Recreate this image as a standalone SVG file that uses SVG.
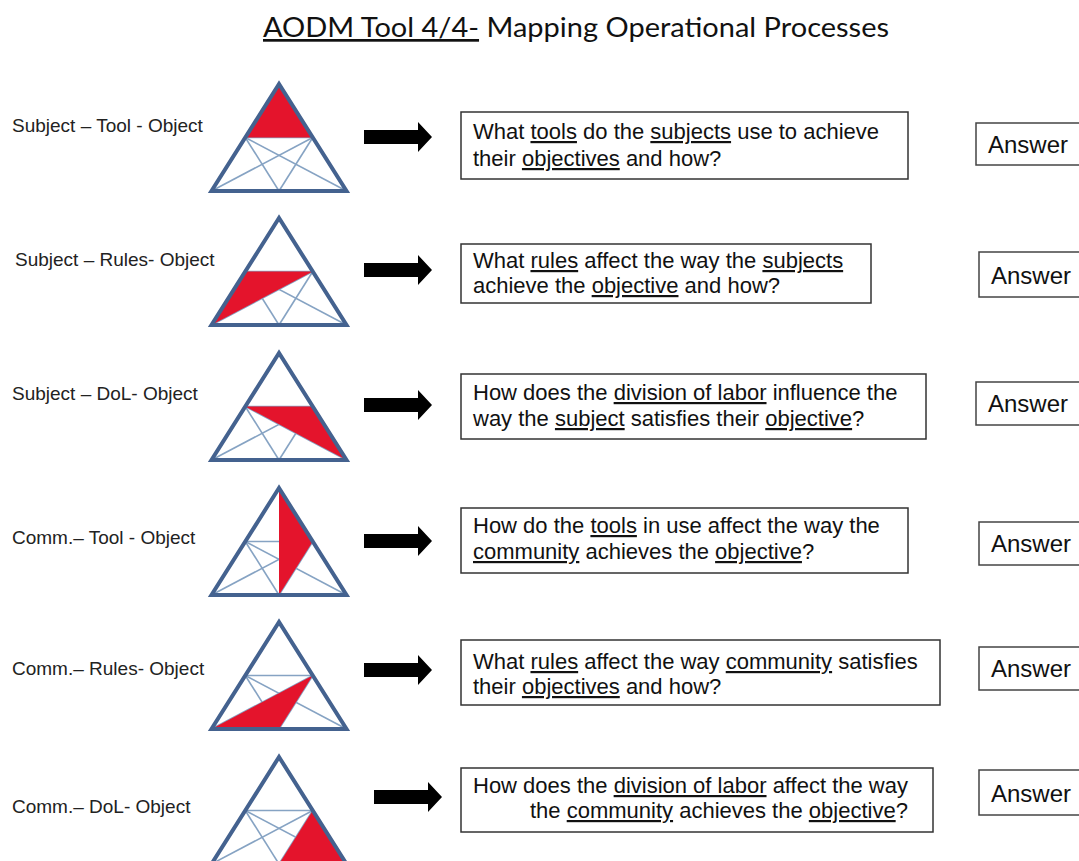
<svg xmlns="http://www.w3.org/2000/svg" xmlns:xlink="http://www.w3.org/1999/xlink" width="1079" height="861" viewBox="0 0 1079 861">
  <style>
    .title { font-family: Lato, "Liberation Sans", sans-serif; font-size: 27px; fill: #111; }
    .label { font-family: "Liberation Sans", Arial, sans-serif; font-size: 19px; fill: #222; }
    .q { font-family: "Liberation Sans", Arial, sans-serif; font-size: 22px; fill: #111; }
    .u { text-decoration: underline; }
    .qbox { fill: #fff; stroke: #333; stroke-width: 1.5; }
    .abox { fill: #fff; stroke: #444; stroke-width: 1.5; }
    .ans { font-family: "Liberation Sans", Arial, sans-serif; font-size: 24px; fill: #111; }
    .outer { fill: none; stroke: #44628f; stroke-width: 4; stroke-linejoin: miter; }
    .inner { fill: none; stroke: #86a3c3; stroke-width: 1.6; }
    .hot { fill: #e4142c; }
    .arrow { fill: #000; }
  </style>
  <defs>
    <!-- activity triangle, apex at origin: tool (0,0), subject (-33.75,53.5), object (33.75,53.5),
         rules (-67.5,107), community (0,107), division of labour (67.5,107) -->
    <g id="innerLines">
      <line class="inner" x1="-33.75" y1="53.5" x2="33.75" y2="53.5"/>
      <line class="inner" x1="-33.75" y1="53.5" x2="67.5" y2="107"/>
      <line class="inner" x1="33.75" y1="53.5" x2="-67.5" y2="107"/>
      <line class="inner" x1="-33.75" y1="53.5" x2="0" y2="107"/>
      <line class="inner" x1="33.75" y1="53.5" x2="0" y2="107"/>
    </g>
    <polygon id="outerTri" class="outer" points="0,0 -67.5,107 67.5,107"/>
    <path id="blockArrow" class="arrow" d="M0,-7 H54 V-15 L68,0 L54,15 V7 H0 Z"/>
  </defs>

  <!-- heading -->
  <text class="title" x="263" y="37" textLength="626" lengthAdjust="spacingAndGlyphs"><tspan class="u">AODM Tool 4/4-</tspan> Mapping Operational Processes</text>

  <!-- row 1 -->
  <g id="row1-label"><text class="label" x="12" y="132">Subject – Tool - Object</text></g>
  <g id="row1-triangle" transform="translate(279,84)">
    <use xlink:href="#innerLines"/>
    <polygon class="hot" points="0,0 -33.75,53.5 33.75,53.5"/>
    <use xlink:href="#outerTri"/>
  </g>
  <g id="row1-question">
    <rect class="qbox" x="461" y="112" width="447" height="67"/>
    <text class="q" x="473" y="139">What <tspan class="u">tools</tspan> do the <tspan class="u">subjects</tspan> use to achieve</text>
    <text class="q" x="473" y="166">their <tspan class="u">objectives</tspan> and how?</text>
  </g>
  <g id="row1-answer">
    <rect class="abox" x="976" y="123" width="120" height="42"/>
    <text class="ans" x="988" y="153">Answer</text>
  </g>

  <!-- row 2 -->
  <g id="row2-label"><text class="label" x="15" y="266">Subject – Rules- Object</text></g>
  <g id="row2-triangle" transform="translate(279,218)">
    <use xlink:href="#innerLines"/>
    <polygon class="hot" points="-33.75,53.5 33.75,53.5 -67.5,107"/>
    <use xlink:href="#outerTri"/>
  </g>
  <g id="row2-question">
    <rect class="qbox" x="461" y="244" width="410" height="59"/>
    <text class="q" x="473" y="268">What <tspan class="u">rules</tspan> affect the way the <tspan class="u">subjects</tspan></text>
    <text class="q" x="473" y="293">achieve the <tspan class="u">objective</tspan> and how?</text>
  </g>
  <g id="row2-answer">
    <rect class="abox" x="979" y="252" width="120" height="45"/>
    <text class="ans" x="991" y="284">Answer</text>
  </g>

  <!-- row 3 -->
  <g id="row3-label"><text class="label" x="12" y="400">Subject – DoL- Object</text></g>
  <g id="row3-triangle" transform="translate(279,353)">
    <use xlink:href="#innerLines"/>
    <polygon class="hot" points="-33.75,53.5 33.75,53.5 67.5,107"/>
    <use xlink:href="#outerTri"/>
  </g>
  <g id="row3-question">
    <rect class="qbox" x="461" y="374" width="465" height="65"/>
    <text class="q" x="473" y="400">How does the <tspan class="u">division of labor</tspan> influence the</text>
    <text class="q" x="473" y="426">way the <tspan class="u">subject</tspan> satisfies their <tspan class="u">objective</tspan>?</text>
  </g>
  <g id="row3-answer">
    <rect class="abox" x="976" y="382" width="120" height="43"/>
    <text class="ans" x="988" y="412">Answer</text>
  </g>

  <!-- row 4 -->
  <g id="row4-label"><text class="label" x="12" y="544">Comm.– Tool - Object</text></g>
  <g id="row4-triangle" transform="translate(279,488)">
    <use xlink:href="#innerLines"/>
    <polygon class="hot" points="0,0 0,107 33.75,53.5"/>
    <use xlink:href="#outerTri"/>
  </g>
  <g id="row4-question">
    <rect class="qbox" x="461" y="508" width="447" height="65"/>
    <text class="q" x="473" y="533">How do the <tspan class="u">tools</tspan> in use affect the way the</text>
    <text class="q" x="473" y="559"><tspan class="u">community</tspan> achieves the <tspan class="u">objective</tspan>?</text>
  </g>
  <g id="row4-answer">
    <rect class="abox" x="979" y="522" width="120" height="43"/>
    <text class="ans" x="991" y="552">Answer</text>
  </g>

  <!-- row 5 -->
  <g id="row5-label"><text class="label" x="12" y="675">Comm.– Rules- Object</text></g>
  <g id="row5-triangle" transform="translate(279,622)">
    <use xlink:href="#innerLines"/>
    <polygon class="hot" points="-67.5,107 0,107 33.75,53.5"/>
    <use xlink:href="#outerTri"/>
  </g>
  <g id="row5-question">
    <rect class="qbox" x="461" y="640" width="479" height="65"/>
    <text class="q" x="473" y="669">What <tspan class="u">rules</tspan> affect the way <tspan class="u">community</tspan> satisfies</text>
    <text class="q" x="473" y="694">their <tspan class="u">objectives</tspan> and how?</text>
  </g>
  <g id="row5-answer">
    <rect class="abox" x="979" y="647" width="120" height="43"/>
    <text class="ans" x="991" y="677">Answer</text>
  </g>

  <!-- row 6 -->
  <g id="row6-label"><text class="label" x="12" y="813">Comm.– DoL- Object</text></g>
  <g id="row6-triangle" transform="translate(279,757)">
    <use xlink:href="#innerLines"/>
    <polygon class="hot" points="0,107 67.5,107 33.75,53.5"/>
    <use xlink:href="#outerTri"/>
  </g>
  <g id="row6-question">
    <rect class="qbox" x="461" y="768" width="472" height="64"/>
    <text class="q" x="473" y="793">How does the <tspan class="u">division of labor</tspan> affect the way</text>
    <text class="q" x="530" y="818">the <tspan class="u">community</tspan> achieves the <tspan class="u">objective</tspan>?</text>
  </g>
  <g id="row6-answer">
    <rect class="abox" x="979" y="770" width="120" height="45"/>
    <text class="ans" x="991" y="802">Answer</text>
  </g>

  <!-- connectors: triangle to question -->
  <g id="connectors">
    <use xlink:href="#blockArrow" x="364" y="137"/>
    <use xlink:href="#blockArrow" x="364" y="270"/>
    <use xlink:href="#blockArrow" x="364" y="405"/>
    <use xlink:href="#blockArrow" x="364" y="541"/>
    <use xlink:href="#blockArrow" x="364" y="670"/>
    <use xlink:href="#blockArrow" x="374" y="797"/>
  </g>
</svg>
